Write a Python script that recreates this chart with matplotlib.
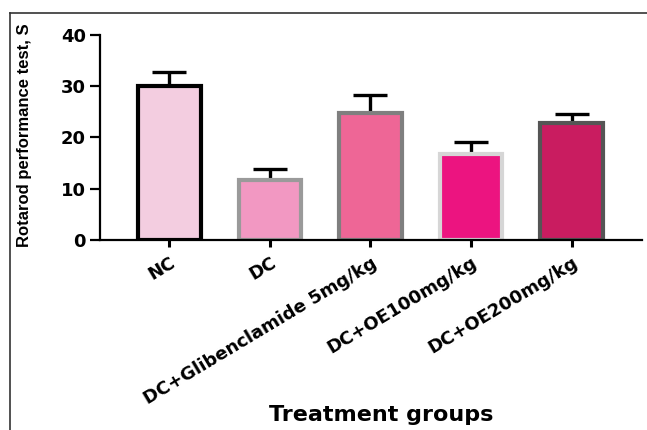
import matplotlib
import matplotlib.pyplot as plt
from matplotlib.lines import Line2D

matplotlib.use("Agg")

GROUPS = ["NC", "DC", "DC+Glibenclamide 5mg/kg", "DC+OE100mg/kg", "DC+OE200mg/kg"]
MEANS = [30.0, 11.8, 24.7, 16.8, 22.9]
ERRORS = [2.8, 2.0, 3.6, 2.3, 1.7]
FILL_COLORS = ["#f3cde0", "#f298c2", "#ee6696", "#ec1480", "#c91c60"]
EDGE_COLORS = ["#000000", "#9a9a9a", "#7f7f7f", "#d6d6d6", "#555555"]
Y_TICKS = [0, 10, 20, 30, 40]


def main():
    fig = plt.figure(figsize=(6.47, 4.30), dpi=100)
    ax = fig.add_axes((100 / 647, 1 - 240 / 430, 542 / 647, 205 / 430))

    x = range(len(GROUPS))
    ax.bar(x, MEANS, width=0.62, color=FILL_COLORS, edgecolor=EDGE_COLORS, linewidth=3.0, zorder=2)
    ax.errorbar(x, MEANS, yerr=[[0] * len(ERRORS), ERRORS], fmt="none", ecolor="black",
                elinewidth=2.4, capsize=12, capthick=2.4, zorder=1)

    ax.set_xlim(-0.69, 4.70)
    ax.set_ylim(0, 40)
    ax.set_yticks(Y_TICKS)
    ax.set_yticklabels([str(t) for t in Y_TICKS], fontsize=13, fontweight="bold")
    ax.set_xticks(list(x))
    ax.set_xticklabels(GROUPS, rotation=31, ha="right", va="top", rotation_mode="anchor",
                       fontsize=13, fontweight="bold")

    for side in ["top", "right"]:
        ax.spines[side].set_visible(False)
    for side in ["left", "bottom"]:
        ax.spines[side].set_linewidth(1.6)
    ax.tick_params(axis="y", length=7, width=1.6, pad=3)
    ax.tick_params(axis="x", length=5, width=2.2, pad=5)

    ax.set_ylabel("Rotarod performance test, S", fontsize=12, fontweight="bold",
                  family="Liberation Sans")
    ax.yaxis.set_label_coords(-0.126, 0.51)

    fig.text(381 / 647, 1 - 415 / 430, "Treatment groups", ha="center", va="center",
             fontsize=16, fontweight="bold")

    # thin frame at left and top of the picture
    fig.add_artist(Line2D([10 / 647, 10 / 647], [0, 1 - 13 / 430], transform=fig.transFigure,
                          color="#333333", linewidth=1.2))
    fig.add_artist(Line2D([10 / 647, 1], [1 - 13 / 430, 1 - 13 / 430], transform=fig.transFigure,
                          color="#333333", linewidth=1.2))

    fig.savefig("out.png", dpi=100)
    plt.close(fig)


if __name__ == "__main__":
    main()
